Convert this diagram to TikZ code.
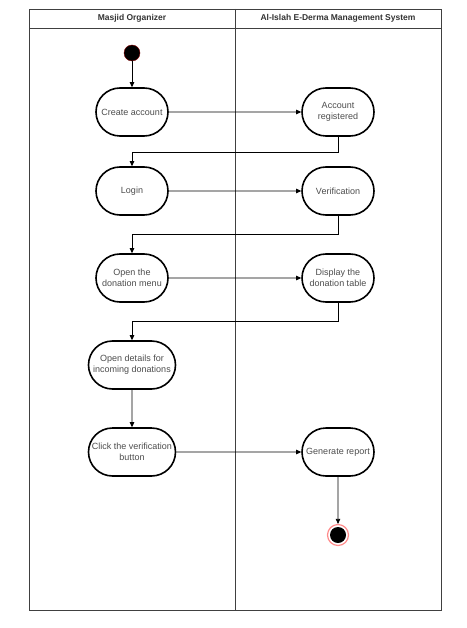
\documentclass[tikz,border=0pt]{standalone}
\usepackage{fontspec}
\setmainfont{Liberation Sans}
\usetikzlibrary{arrows.meta}
\usetikzlibrary{shapes.misc}

\begin{document}
\begin{tikzpicture}[x=1pt,y=-1pt,
	act/.style={draw,rounded rectangle,line width=1.6pt,minimum width=74pt,minimum height=48pt,inner sep=1pt,align=center,font=\fontsize{9}{11}\selectfont,text=black!70},
	flow/.style={-{Triangle[length=5pt,width=4.5pt]},line width=0.7pt},
	lane/.style={font=\bfseries\fontsize{8.5}{10}\selectfont,text=black!80}]
	\useasboundingbox (0,0) rectangle (466,628);

	% swimlanes
	\draw[line width=0.8pt,black!75] (29,9) rectangle (441,610);
	\draw[line width=0.8pt,black!75] (29,28) -- (441,28);
	\draw[line width=0.8pt,black!75] (235,9) -- (235,610);
	\node[lane] (org) at (132,18.5) {Masjid Organizer};
	\node[lane] (sys) at (338,18.5) {Al-Islah E-Derma Management System};

	\node[circle,fill=black,draw=red!50!black,minimum size=16pt,inner sep=0pt] (start) at (132,53) {};

	\node[act] (create) at (132,112) {Create account};
	\node[act] (registered) at (338,112) {Account\\registered};
	\node[act] (login) at (132,191) {Login};
	\node[act] (verify) at (338,191) {Verification};
	\node[act] (menu) at (132,278) {Open the\\donation menu};
	\node[act] (table) at (338,278) {Display the\\donation table};
	\node[act,minimum width=89pt] (details) at (132,365) {Open details for\\incoming donations};
	\node[act,minimum width=89pt] (click) at (132,452) {Click the verification\\button};
	\node[act] (report) at (338,452) {Generate report};

	\node[circle,draw=red!45,line width=1.2pt,minimum size=21pt,inner sep=0pt,
		path picture={\fill[black] (path picture bounding box.center) circle (8pt);}] (stop) at (338,535) {};

	\draw[flow] (start) -- (create);
	\draw[flow] (create) -- (registered);
	\draw[flow] (registered.south) -- ++(0,16) -| (login.north);
	\draw[flow] (login) -- (verify);
	\draw[flow] (verify.south) -- ++(0,19) -| (menu.north);
	\draw[flow] (menu) -- (table);
	\draw[flow] (table.south) -- ++(0,19) -| (details.north);
	\draw[flow] (details) -- (click);
	\draw[flow] (click) -- (report);
	\draw[flow] (report) -- (stop);
\end{tikzpicture}
\end{document}
